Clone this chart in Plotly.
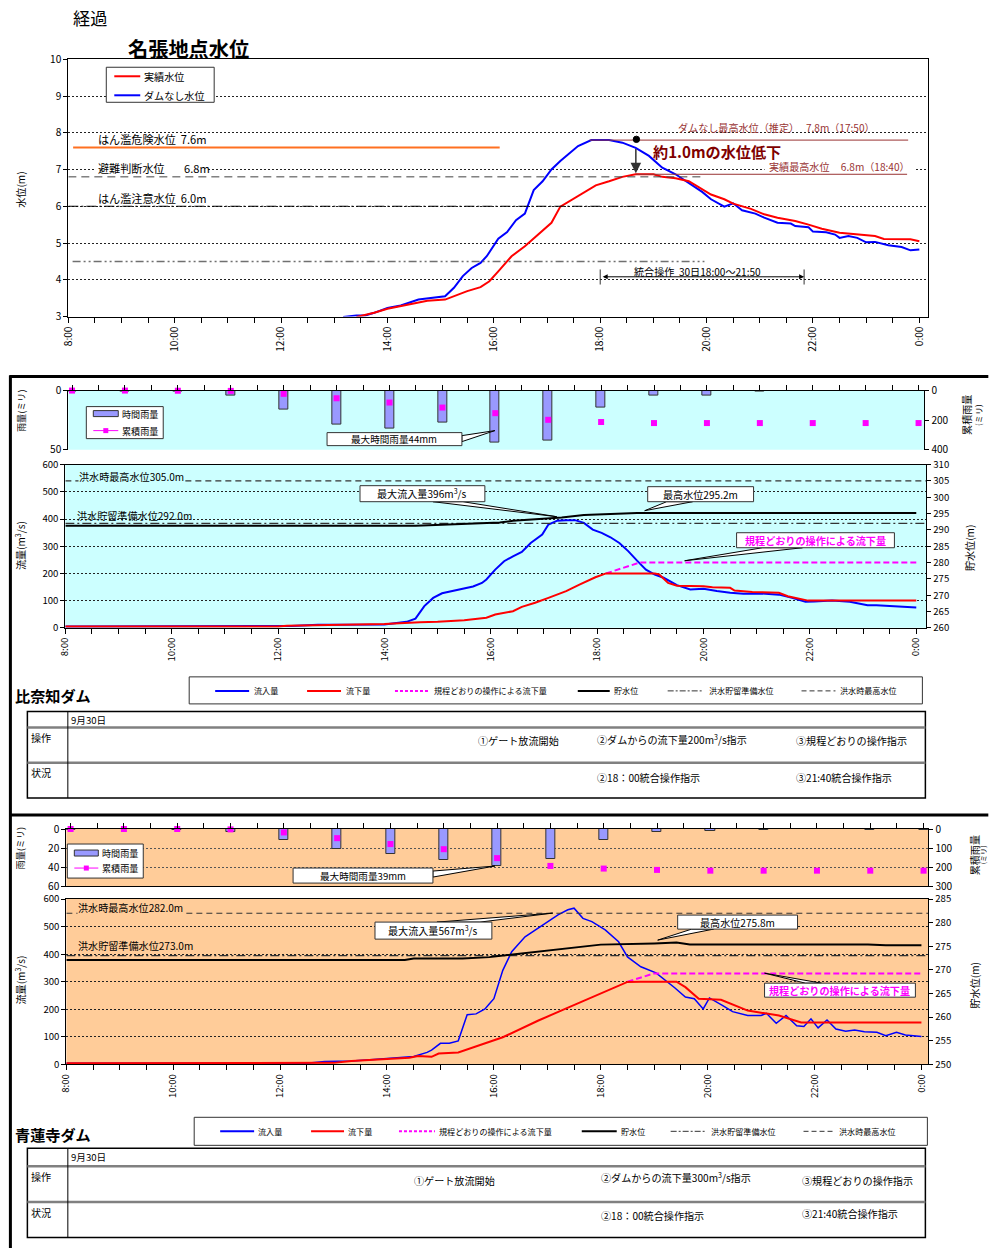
import plotly.graph_objects as go

W, H = 989, 1248
JP = "Noto Sans CJK JP"
# measured page-to-photo mapping of this viewer (photo = B + A * page); positions below are
# written in reference-photo pixels and converted back to page pixels.
AX, BX, AY, BY = 0.992, 8.6, 0.987, 8.8
FS = 1.0 / 0.99  # font compensation for the same shrink

# ====================== DATA ======================
TIME_TICKS = ["8:00", "10:00", "12:00", "14:00", "16:00", "18:00", "20:00", "22:00", "0:00"]

nabari_nodam_time = ["13:10","13:25","13:35","13:45","14:00","14:15","14:35","14:45","15:05","15:15",
                     "15:25","15:35","15:45","15:52","16:05","16:15","16:25","16:35","16:45","16:55",
                     "17:05","17:15","17:35","17:50","18:00","18:10","18:25","18:40","18:55","19:10",
                     "19:25","19:40","19:55","20:05","20:20","20:30","20:40","20:55","21:05","21:20",
                     "21:35","21:40","21:55","22:00","22:15","22:25","22:30","22:40","22:50","23:00",
                     "23:10","23:25","23:40","23:50","24:00"]
nabari_nodam_level = [2.99,3.03,3.03,3.10,3.23,3.30,3.46,3.49,3.55,3.78,
                      4.10,4.32,4.46,4.64,5.12,5.30,5.62,5.80,6.44,6.68,
                      7.00,7.23,7.64,7.80,7.80,7.80,7.73,7.59,7.37,7.05,
                      6.87,6.64,6.39,6.19,5.99,6.08,5.89,5.80,5.69,5.55,
                      5.53,5.46,5.43,5.31,5.29,5.23,5.14,5.19,5.14,5.02,
                      5.03,4.94,4.89,4.80,4.82]
nabari_actual_time = ["13:25","13:45","14:00","14:15","14:35","14:45","15:05","15:15","15:30","15:45",
                      "15:55","16:05","16:20","16:35","16:50","17:05","17:15","17:35","17:55","18:10",
                      "18:25","18:40","19:00","19:10","19:25","19:40","19:50","20:05","20:20","20:30",
                      "20:50","21:05","21:20","21:40","21:55","22:10","22:30","22:50","23:10","23:20",
                      "23:40","23:50","24:00"]
nabari_actual_level = [2.99,3.10,3.21,3.28,3.37,3.43,3.46,3.55,3.69,3.80,
                       3.96,4.23,4.64,4.91,5.23,5.55,5.99,6.28,6.57,6.68,
                       6.80,6.87,6.87,6.80,6.76,6.68,6.53,6.32,6.19,6.07,
                       5.93,5.78,5.69,5.60,5.50,5.39,5.28,5.23,5.19,5.11,
                       5.10,5.10,5.05]
LV_DANGER, LV_EVAC, LV_CAUTION, LV_OTHER = 7.6, 6.8, 6.0, 4.5
NODAM_PEAK, ACTUAL_PEAK = 7.8, 6.87
OP_START, OP_END = "18:00", "21:50"

rain_time = ["8:00","9:00","10:00","11:00","12:00","13:00","14:00","15:00","16:00",
             "17:00","18:00","19:00","20:00","21:00","22:00","23:00","24:00"]
hinachi_rain_hourly = [0.5,0.5,1,4.5,16,29,32,27.5,44,42,14,4.5,4.5,1,0,0,0]
hinachi_rain_cum = [0,0,1,2,22,52,81,115,153,198,213,220,220,220,220,220,220]
seirenji_rain_hourly = [1,0.5,1,3,12,21,26,33,39,32,12,3,2,1,0,1,1]
seirenji_rain_cum = [0,0,0,2,18,48,79,106,153,194,208,215,219,219,219,219,219]

hinachi_in_time = ["8:00","12:00","12:15","12:45","14:00","14:25","14:35","14:45","14:55","15:05",
                   "15:20","15:40","15:50","15:55","16:05","16:15","16:25","16:35","16:45","16:58",
                   "17:05","17:15","17:25","17:35","17:45","17:55","18:05","18:15","18:25","18:35",
                   "18:45","18:55","19:05","19:15","19:30","19:45","20:00","20:15","20:30","20:45",
                   "21:05","21:25","21:40","21:55","22:05","22:25","22:45","23:05","23:15","23:30",
                   "23:50","24:00"]
hinachi_in_flow = [5,5,7,11,12,22,34,80,110,127,
                   138,152,165,178,214,245,263,279,312,343,
                   380,394,396,396,386,361,349,333,312,282,
                   247,214,196,184,157,141,144,135,129,125,
                   126,122,110,96,97,100,96,83,83,80,
                   78,75]
hinachi_out_time = ["8:00","12:00","12:10","13:40","14:00","14:40","15:00","15:30","15:45","15:55",
                    "16:05","16:25","16:35","16:50","17:05","17:25","17:40","17:58","18:10","19:05",
                    "19:10","19:20","19:30","20:00","20:10","20:30","20:35","20:55","21:25","21:35",
                    "21:58","24:00"]
hinachi_out_flow = [5,5,8,12,14,20,22,28,33,37,
                    49,61,77,92,110,135,159,186,200,200,
                    196,165,155,153,149,147,137,132,129,116,
                    100,100]
hinachi_rule_time = ["18:10","18:48","24:00"]
hinachi_rule_flow = [200,240,240]
hinachi_wl_time = ["8:00","14:35","15:05","15:50","16:10","16:25","17:20","17:45","18:20","18:45","24:00"]
hinachi_wl = [291.25,291.3,291.6,292.0,292.3,292.8,293.8,294.55,294.85,295.2,295.2]
HINACHI_FLOOD_MAX, HINACHI_PREP = 305.0, 292.0

seirenji_in_time = ["8:00","12:30","12:50","13:20","13:45","14:15","14:30","14:45","14:50","15:00",
                    "15:10","15:20","15:30","15:40","15:50","15:55","16:00","16:10","16:20","16:35",
                    "16:58","17:12","17:23","17:30","17:40","17:50","18:05","18:20","18:30","18:45",
                    "19:02","19:13","19:23","19:35","19:45","19:55","20:02","20:17","20:28","20:45",
                    "21:00","21:06","21:17","21:28","21:40","21:48","21:56","22:04","22:14","22:24",
                    "22:35","22:45","22:56","23:10","23:20","23:32","23:42","24:00"]
seirenji_in_flow = [4,4,10,12,17,24,28,43,51,76,
                    76,85,180,183,201,220,238,341,409,463,
                    512,543,561,567,530,518,488,445,390,354,
                    332,305,278,244,238,201,241,213,191,177,
                    177,185,149,177,140,137,165,132,161,128,
                    120,124,118,116,104,116,106,101]
seirenji_out_time = ["8:00","13:00","13:20","13:45","14:25","14:35","14:50","14:58","15:20","16:10",
                     "16:50","17:20","17:55","18:30","18:45","19:25","19:35","19:50","20:15","20:45",
                     "21:20","21:45","24:00"]
seirenji_out_flow = [4,5,12,16,24,30,27,39,43,98,
                     159,201,250,299,300,300,280,238,234,195,
                     177,152,152]
seirenji_rule_time = ["18:30","19:00","24:00"]
seirenji_rule_flow = [300,330,330]
seirenji_wl_time = ["8:00","14:20","14:30","15:25","15:55","16:20","16:50","17:25","18:00","19:00",
                    "19:25","19:40","23:00","23:20","24:00"]
seirenji_wl = [272.1,272.1,272.4,272.4,272.7,273.2,273.9,274.6,275.35,275.6,
               275.8,275.4,275.4,275.2,275.2]
SEIRENJI_FLOOD_MAX, SEIRENJI_PREP = 282.0, 273.0

# ====================== HELPERS ======================
def hrs(t):
    h, m = t.split(":")
    return int(h) + int(m) / 60.0

def hx(ts):
    return [hrs(t) for t in ts]

def X(px):
    return ((px - BX) / AX) / W

def Y(py):
    return 1 - ((py - BY) / AY) / H

def fs(s):
    return round(s * FS, 2)

shapes, ann = [], []

def rect(x0, y0, x1, y1, fill=None, color="black", width=1, layer="above"):
    shapes.append(dict(type="rect", xref="paper", yref="paper", x0=X(x0), x1=X(x1), y0=Y(y1), y1=Y(y0),
                       fillcolor=fill if fill else "rgba(0,0,0,0)",
                       line=dict(color=color, width=width), layer=layer))

def seg(x0, y0, x1, y1, color="black", width=1, dash="solid"):
    shapes.append(dict(type="line", xref="paper", yref="paper", x0=X(x0), y0=Y(y0), x1=X(x1), y1=Y(y1),
                       line=dict(color=color, width=width, dash=dash)))

def poly(pts, fill="white", color="black", width=1):
    d = "M " + " L ".join(f"{X(a):.5f},{Y(b):.5f}" for a, b in pts) + " Z"
    shapes.append(dict(type="path", xref="paper", yref="paper", path=d, fillcolor=fill,
                       line=dict(color=color, width=width)))

def text(x, y, s, size=10, color="black", xa="left", ya="middle", bg=None, angle=0):
    a = dict(x=X(x), y=Y(y), xref="paper", yref="paper", text=s, showarrow=False, xanchor=xa,
             yanchor=ya, font=dict(family=JP, size=fs(size), color=color), textangle=angle, borderpad=0)
    if bg:
        a["bgcolor"] = bg
    ann.append(a)

def xaxis_cfg(dom, rng, anchor, side="bottom", labels=True, mirror=False, size=10):
    tv = [8 + 0.5 * i for i in range(33)]
    tt = [TIME_TICKS[i // 4] if i % 4 == 0 else "" for i in range(33)]
    return dict(domain=[X(dom[0]), X(dom[1])], range=rng, anchor=anchor, side=side, tickmode="array",
                tickvals=tv, ticktext=tt, ticks="outside", ticklen=5, tickcolor="black", tickwidth=1,
                showticklabels=labels, tickangle=-90, showgrid=False, zeroline=False, showline=True,
                linecolor="black", linewidth=1, mirror=mirror,
                tickfont=dict(family=JP, size=fs(size), color="black"), fixedrange=True)

def yaxis_cfg(dom, rng, anchor, tickvals, side="left", overlaying=None, grid=False,
              gridcolor="#222222", size=10, mirror=False):
    d = dict(range=rng, anchor=anchor, side=side, tickmode="array", tickvals=tickvals,
             ticktext=[str(v) for v in tickvals], ticks="outside", ticklen=4, tickcolor="black",
             showgrid=grid, gridcolor=gridcolor, griddash="2px,2px", gridwidth=1, zeroline=False,
             showline=True, linecolor="black", linewidth=1, mirror=mirror,
             tickfont=dict(family=JP, size=fs(size), color="black"), fixedrange=True)
    if overlaying:
        d["overlaying"] = overlaying
    else:
        d["domain"] = [Y(dom[1]), Y(dom[0])]
    return d

fig = go.Figure()

def line_trace(t, v, color, width=2, dash="solid", xa="x", ya="y"):
    fig.add_trace(go.Scatter(x=hx(t), y=v, mode="lines", line=dict(color=color, width=width, dash=dash),
                             xaxis=xa, yaxis=ya, showlegend=False, hoverinfo="skip"))

# ====================== BACKGROUNDS / FRAMES ======================
rect(68, 391, 925, 450, fill="#CCFFFF", width=0, layer="below")
rect(65, 465, 927, 628, fill="#CCFFFF", width=0, layer="below")
rect(66, 829, 929, 886, fill="#FFCC99", width=0, layer="below")
rect(66, 899, 929, 1064, fill="#FFCC99", width=0, layer="below")

# ====================== TOP CHART ======================
X_TOP = [8, 24.17]
shapes.append(dict(type="line", xref="x", yref="y", x0=8.09, x1=16.11, y0=LV_DANGER, y1=LV_DANGER,
                   line=dict(color="#FF7020", width=2)))
shapes.append(dict(type="line", xref="x", yref="y", x0=8.0, x1=19.9, y0=LV_EVAC, y1=LV_EVAC,
                   line=dict(color="#404040", width=1, dash="8px,5px")))
shapes.append(dict(type="line", xref="x", yref="y", x0=8.0, x1=19.74, y0=LV_CAUTION, y1=LV_CAUTION,
                   line=dict(color="black", width=1, dash="10px,3px,2px,3px")))
shapes.append(dict(type="line", xref="x", yref="y", x0=8.08, x1=19.96, y0=LV_OTHER, y1=LV_OTHER,
                   line=dict(color="#707070", width=1.5, dash="8px,3px,2px,3px,2px,3px")))
shapes.append(dict(type="line", xref="x", yref="y", x0=17.8, x1=23.79, y0=NODAM_PEAK, y1=NODAM_PEAK,
                   line=dict(color="#993333", width=1)))
shapes.append(dict(type="line", xref="x", yref="y", x0=18.67, x1=23.77, y0=ACTUAL_PEAK, y1=ACTUAL_PEAK,
                   line=dict(color="#993333", width=1)))
for t in (OP_START, OP_END):
    shapes.append(dict(type="line", xref="x", yref="y", x0=hrs(t), x1=hrs(t), y0=3.87, y1=4.28,
                       line=dict(color="#333333", width=1)))

line_trace(nabari_nodam_time, nabari_nodam_level, "#0000FF", 2, xa="x", ya="y")
line_trace(nabari_actual_time, nabari_actual_level, "#FF0000", 2, xa="x", ya="y")

ann.append(dict(x=18.67, y=ACTUAL_PEAK + 0.03, ax=18.67, ay=NODAM_PEAK, xref="x", yref="y", axref="x",
                ayref="y", showarrow=True, arrowhead=2, arrowsize=1.4, arrowwidth=1.5,
                arrowcolor="#333333", text=" "))
ann.append(dict(x=hrs(OP_END), y=4.08, ax=hrs(OP_START), ay=4.08, xref="x", yref="y", axref="x",
                ayref="y", showarrow=True, arrowhead=2, arrowside="end+start", arrowsize=1,
                arrowwidth=1, arrowcolor="black", text=" "))
shapes.append(dict(type="circle", xref="paper", yref="paper", x0=X(633.5), x1=X(639.9), y0=Y(143.2),
                   y1=Y(136.8), fillcolor="black", line=dict(color="black", width=1)))

rect(106, 68, 214, 103, fill="white", color="#333333", width=1)
seg(114, 77, 140, 77, "#FF0000", 2)
seg(114, 96, 140, 96, "#0000FF", 2)
text(143, 77, "実績水位", 10)
text(143, 96, "ダムなし水位", 10)

text(72, 18, "経過", 17)
text(127, 49, "<b>名張地点水位</b>", 20)
text(20, 190, "水位(m)", 10, angle=-90, xa="center")
text(97, 140, "はん濫危険水位\u00a0\u00a07.6m", 11)
rect(95, 162, 208, 176, fill="white", width=0)
text(97, 169, "避難判断水位", 11)
text(183, 169, "6.8m", 11)
rect(95, 193, 208, 204, fill="white", width=0)
text(97, 199, "はん濫注意水位\u00a0\u00a06.0m", 11)
text(677, 128, "ダムなし最高水位（推定）\u00a0\u00a0\u00a07.8m（17:50）", 10, color="#993333")
text(652, 152, "<b>約1.0mの水位低下</b>", 15, color="#800000")
rect(765, 161, 915, 173, fill="white", width=0)
text(768, 167, "実績最高水位\u00a0\u00a0\u00a0\u00a0\u00a06.8m（18:40）", 10, color="#993333")
text(698, 272, "統合操作\u00a0\u00a030日18:00～21:50", 10, xa="center")

# ====================== MIDDLE: 比奈知ダム ======================
seg(9, 377, 989, 377, "black", 3)
seg(10, 376, 10, 1248, "black", 3)

fig.add_trace(go.Bar(x=hx(rain_time), y=hinachi_rain_hourly, width=0.17,
                     marker=dict(color="#9999FF", line=dict(color="#333333", width=1)),
                     xaxis="x2", yaxis="y2", showlegend=False, hoverinfo="skip"))
fig.add_trace(go.Scatter(x=hx(rain_time), y=hinachi_rain_cum, mode="markers",
                         marker=dict(symbol="square", size=6, color="#FF00FF"), cliponaxis=False,
                         xaxis="x2", yaxis="y3", showlegend=False, hoverinfo="skip"))

X_MID = [8, 24.19]
line_trace(["8:00", "24:11"], [HINACHI_FLOOD_MAX] * 2, "#333333", 1.2, "6px,4px", "x3", "y5")
line_trace(["8:00", "24:11"], [HINACHI_PREP] * 2, "#333333", 1.2, "9px,3px,2px,3px", "x3", "y5")
line_trace(hinachi_in_time, hinachi_in_flow, "#0000FF", 2, xa="x3", ya="y4")
line_trace(hinachi_rule_time, hinachi_rule_flow, "#FF00FF", 2, "6px,3px", "x3", "y4")
line_trace(hinachi_out_time, hinachi_out_flow, "#FF0000", 2, xa="x3", ya="y4")
line_trace(hinachi_wl_time, hinachi_wl, "black", 2, xa="x3", ya="y5")

rect(86, 407, 163, 439, fill="white", color="#333333")
rect(93, 411, 118, 417, fill="#9999FF", color="#333333")
text(121, 414, "時間雨量", 9)
seg(93, 431, 118, 431, "#FF00FF", 1)
rect(103, 428.5, 108, 433.5, fill="#FF00FF", width=0)
text(121, 431, "累積雨量", 9)
poly([(462, 436), (495, 431), (462, 442)])
rect(327, 433, 462, 446, fill="white", color="#333333")
text(394.5, 439.5, "最大時間雨量44mm", 9.5, xa="center")
poly([(433, 502), (557, 517), (463, 502)])
rect(360, 486, 485, 502, fill="white", color="#333333")
text(422.5, 494, "最大流入量396m<sup>3</sup>/s", 10, xa="center")
poly([(667, 502), (645, 511), (693, 502)])
rect(648, 487, 754, 502, fill="white", color="#333333")
text(701, 494.5, "最高水位295.2m", 10, xa="center")
poly([(763, 548), (685, 561), (803, 548)])
rect(737, 533, 895, 548, fill="white", color="#333333")
text(816, 540.5, "<b>規程どおりの操作による流下量</b>", 10, color="#FF00FF", xa="center")
text(78, 477, "洪水時最高水位305.0m", 10, bg="#CCFFFF")
text(76, 516, "洪水貯留準備水位292.0m", 10)
text(20, 411, "雨量(ミリ)", 9, angle=-90, xa="center")
text(967, 415, "累積雨量", 10, angle=-90, xa="center")
text(979, 415, "(ミリ)", 8, angle=-90, xa="center")
text(20, 546, "流量(m<sup>3</sup>/s)", 10, angle=-90, xa="center")
text(970, 548, "貯水位(m)", 10, angle=-90, xa="center")

def section_legend(box, yc, items):
    rect(*box, fill="white", color="#333333")
    for (x0, x1, color, dash, width, label, tx) in items:
        seg(x0, yc, x1, yc, color, width, dash)
        text(tx, yc, label, 8)

legend_items = [("#0000FF", "solid", 2, "流入量"), ("#FF0000", "solid", 2, "流下量"),
                ("#FF00FF", "3px,2px", 2, "規程どおりの操作による流下量"), ("black", "solid", 2, "貯水位"),
                ("#333333", "6px,2px,2px,2px", 1, "洪水貯留準備水位"), ("#333333", "5px,3px", 1, "洪水時最高水位")]
mid_pos = [(215, 249, 253), (307, 341, 345), (395, 430, 433), (578, 610, 613), (668, 704, 708), (802, 836, 840)]
section_legend((189, 677, 923, 704), 691,
               [(p[0], p[1], it[0], it[1], it[2], it[3], p[2]) for p, it in zip(mid_pos, legend_items)])
text(14, 695, "<b>比奈知ダム</b>", 15)

def table(y0, y1, y2, y3, row_texts):
    rect(27, y0, 926, y3, fill="white", color="black", width=1.5)
    seg(27, y1, 926, y1, "#808080", 2.5)
    seg(27, y2, 926, y2, "#808080", 2.5)
    seg(67.5, y0, 67.5, y3, "black", 1)
    text(70, (y0 + y1) / 2, "9月30日", 9.5)
    text(30, y1 + 10, "操作", 10)
    text(30, y2 + 10, "状況", 10)
    for (x, y, s) in row_texts:
        text(x, y, s, 10)

table(711.7, 727.7, 762.7, 798,
      [(477, 741, "①ゲート放流開始"), (596, 740, "②ダムからの流下量200m<sup>3</sup>/s指示"),
       (795, 741, "③規程どおりの操作指示"), (596, 778, "②18：00統合操作指示"),
       (795, 778, "③21:40統合操作指示")])

# ====================== BOTTOM: 青蓮寺ダム ======================
seg(9, 815, 989, 815, "black", 3)

fig.add_trace(go.Bar(x=hx(rain_time), y=seirenji_rain_hourly, width=0.17,
                     marker=dict(color="#9999FF", line=dict(color="#333333", width=1)),
                     xaxis="x4", yaxis="y6", showlegend=False, hoverinfo="skip"))
fig.add_trace(go.Scatter(x=hx(rain_time), y=seirenji_rain_cum, mode="markers",
                         marker=dict(symbol="square", size=6, color="#FF00FF"), cliponaxis=False,
                         xaxis="x4", yaxis="y7", showlegend=False, hoverinfo="skip"))

line_trace(["8:00", "24:08"], [SEIRENJI_FLOOD_MAX] * 2, "#333333", 1.2, "6px,4px", "x5", "y9")
line_trace(["8:00", "24:08"], [SEIRENJI_PREP] * 2, "#333333", 1.2, "9px,3px,2px,3px", "x5", "y9")
line_trace(seirenji_in_time, seirenji_in_flow, "#0000FF", 1.5, xa="x5", ya="y8")
line_trace(seirenji_rule_time, seirenji_rule_flow, "#FF00FF", 2, "6px,3px", "x5", "y8")
line_trace(seirenji_out_time, seirenji_out_flow, "#FF0000", 2, xa="x5", ya="y8")
line_trace(seirenji_wl_time, seirenji_wl, "black", 2, xa="x5", ya="y9")

rect(67, 844, 143, 878, fill="white", color="#333333")
rect(74, 850, 98, 856, fill="#9999FF", color="#333333")
text(101, 853, "時間雨量", 9)
seg(74, 868, 98, 868, "#FF00FF", 1)
rect(83.5, 865.5, 88.5, 870.5, fill="#FF00FF", width=0)
text(101, 868, "累積雨量", 9)
poly([(433, 871), (495, 866), (433, 877)])
rect(293, 868, 433, 883, fill="white", color="#333333")
text(363, 875.5, "最大時間雨量39mm", 9.5, xa="center")
poly([(437, 922), (553, 913), (480, 922)])
rect(375, 922, 492, 939, fill="white", color="#333333")
text(433.5, 930.5, "最大流入量567m<sup>3</sup>/s", 10, xa="center")
poly([(692, 929), (658, 940), (714, 929)])
rect(678, 915, 798, 929, fill="white", color="#333333")
text(738, 922, "最高水位275.8m", 10, xa="center")
poly([(806, 983), (765, 973), (822, 983)])
rect(765, 983, 916, 997, fill="white", color="#333333")
text(840.5, 990, "<b>規程どおりの操作による流下量</b>", 10, color="#FF00FF", xa="center")
text(77, 907, "洪水時最高水位282.0m", 10, bg="#FFCC99")
text(77, 945, "洪水貯留準備水位273.0m", 10)
text(20, 848, "雨量(ミリ)", 9, angle=-90, xa="center")
text(975, 855, "累積雨量", 10, angle=-90, xa="center")
text(984, 855, "(ミリ)", 7, angle=-90, xa="center")
text(20, 980, "流量(m<sup>3</sup>/s)", 10, angle=-90, xa="center")
text(975, 985, "貯水位(m)", 10, angle=-90, xa="center")

bot_pos = [(220, 254, 257), (311, 344, 347), (399, 435, 438), (582, 617, 620), (671, 705, 710), (804, 836, 839)]
section_legend((194, 1117, 928, 1145), 1131,
               [(p[0], p[1], it[0], it[1], it[2], it[3], p[2]) for p, it in zip(bot_pos, legend_items)])
text(14, 1134, "<b>青蓮寺ダム</b>", 15)

table(1148, 1166, 1201.7, 1237,
      [(413, 1180, "①ゲート放流開始"), (600, 1177, "②ダムからの流下量300m<sup>3</sup>/s指示"),
       (801, 1180, "③規程どおりの操作指示"), (600, 1215, "②18：00統合操作指示"),
       (801, 1213, "③21:40統合操作指示")])

# ====================== LAYOUT ======================
layout = dict(
    width=W, height=H, margin=dict(l=0, r=0, t=0, b=0), autosize=False,
    paper_bgcolor="white", plot_bgcolor="rgba(0,0,0,0)", showlegend=False,
    font=dict(family=JP, size=10, color="black"), bargap=0,
    shapes=shapes, annotations=ann,
    xaxis=xaxis_cfg((68, 929), X_TOP, "y", mirror=True, size=10),
    yaxis=yaxis_cfg((60, 317), [3, 10], "x", [3, 4, 5, 6, 7, 8, 9, 10], grid=True, mirror=True),
    xaxis2=xaxis_cfg((68, 925), [7.93, 24.11], "y2", side="top", labels=False),
    yaxis2=yaxis_cfg((391, 450), [50, 0], "x2", [0, 50], grid=True),
    yaxis3=yaxis_cfg(None, [400, 0], "x2", [0, 200, 400], side="right", overlaying="y2"),
    xaxis3=xaxis_cfg((65, 927), X_MID, "y4", mirror=True, size=9.5),
    yaxis4=yaxis_cfg((465, 628), [0, 600], "x3", [0, 100, 200, 300, 400, 500, 600], grid=True, size=9.5),
    yaxis5=yaxis_cfg(None, [260, 310], "x3", list(range(260, 311, 5)), side="right", overlaying="y4", size=9.5),
    xaxis4=xaxis_cfg((66, 929), [7.92, 24.09], "y6", side="top", labels=False, mirror=True),
    yaxis6=yaxis_cfg((829, 886), [60, 0], "x4", [0, 20, 40, 60], grid=True, gridcolor="#555555"),
    yaxis7=yaxis_cfg(None, [300, 0], "x4", [0, 100, 200, 300], side="right", overlaying="y6"),
    xaxis5=xaxis_cfg((66, 929), [8, 24.13], "y8", mirror=True, size=9.5),
    yaxis8=yaxis_cfg((899, 1064), [0, 600], "x5", [0, 100, 200, 300, 400, 500, 600], grid=True, size=9.5),
    yaxis9=yaxis_cfg(None, [250, 285], "x5", list(range(250, 286, 5)), side="right", overlaying="y8", size=9.5),
)
fig.update_layout(**layout)
PIN = ("var s=document.createElement('style');"
       "s.textContent='html,body{margin:0!important;padding:0!important;overflow:hidden!important;}"
       ".plotly-graph-div{position:fixed!important;left:0!important;top:0!important;}';"
       "document.head.appendChild(s);")
fig.write_html("out.html", config={"displayModeBar": False}, post_script=PIN)
